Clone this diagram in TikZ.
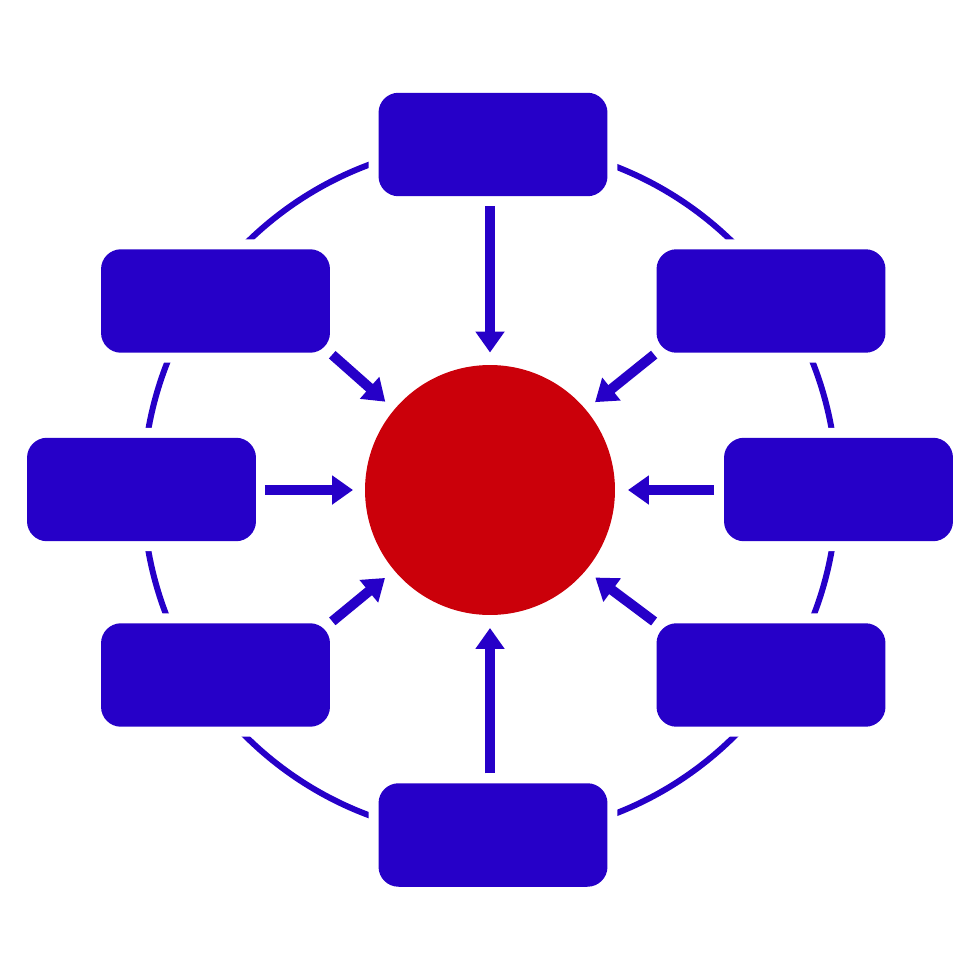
\documentclass[tikz,border=0pt]{standalone}
\usetikzlibrary{arrows.meta}
\definecolor{myblue}{RGB}{38,0,200}
\definecolor{myred}{RGB}{203,0,10}
\tikzset{
  box/.style={rectangle, rounded corners=0.4cm, fill=myblue, minimum width=4.58cm,
    minimum height=2.07cm, inner sep=0pt, outer sep=0pt,
    preaction={draw=white, line width=0.4cm}},
  hub/.style={circle, fill=myred, minimum size=5cm, inner sep=0pt, outer sep=0pt},
  ring/.style={draw=myblue, line width=0.12cm},
  arr/.style={draw=myblue, line width=0.2cm, -{Triangle[width=0.56cm,length=0.42cm]}},
}
\begin{document}
\begin{tikzpicture}[x=0.02cm, y=-0.02cm]
\useasboundingbox (0,0) rectangle (980,980);
\node[hub] (c) at (490,490) {};
\draw[ring] (c.center) circle[radius=6.94cm];
\node[box] (t)  at (493,144.5) {};
\node[box] (b)  at (493,835) {};
\node[box] (ul) at (215.5,301) {};
\node[box] (ur) at (771,301) {};
\node[box] (lm) at (141.5,489.5) {};
\node[box] (rm) at (838.5,489.5) {};
\node[box] (ll) at (215.5,675) {};
\node[box] (lr) at (771,675) {};
\draw[arr, shorten <=0.2cm, shorten >=0.25cm] (t.south -| c) -- (c.north);
\draw[arr, shorten <=0.2cm, shorten >=0.26cm] (b.north -| c) -- (c.south);
\draw[arr, shorten <=0.18cm, shorten >=0.24cm] (lm.east |- c) -- (c.west);
\draw[arr, shorten <=0.2cm, shorten >=0.26cm] (rm.west |- c) -- (c.east);
\draw[arr, shorten <=0.06cm, shorten >=0.24cm] (ul.south east) -- (c.140);
\draw[arr, shorten <=0.06cm, shorten >=0.24cm] (ur.south west) -- (c.40);
\draw[arr, shorten <=0.06cm, shorten >=0.24cm] (ll.north east) -- (c.220);
\draw[arr, shorten <=0.06cm, shorten >=0.24cm] (lr.north west) -- (c.320);
\end{tikzpicture}
\end{document}
